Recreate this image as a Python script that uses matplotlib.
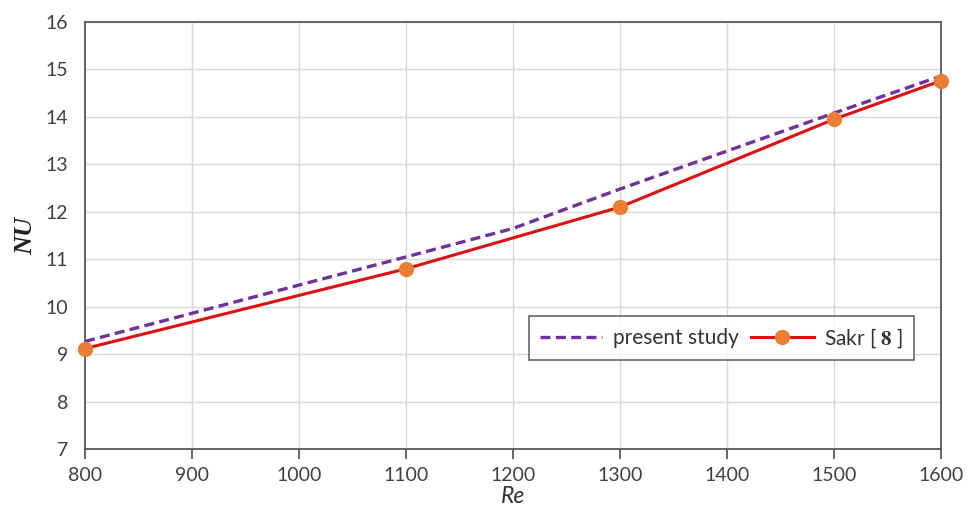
import matplotlib
matplotlib.use("Agg")
import matplotlib.pyplot as plt

# Nusselt number vs Reynolds number
re_present = [800, 1100, 1200, 1300, 1500, 1600]
nu_present = [9.27, 11.05, 11.65, 12.48, 14.08, 14.86]

re_sakr = [800, 1100, 1300, 1500, 1600]
nu_sakr = [9.12, 10.80, 12.10, 13.95, 14.76]

x_ticks = [800, 900, 1000, 1100, 1200, 1300, 1400, 1500, 1600]
y_ticks = [7, 8, 9, 10, 11, 12, 13, 14, 15, 16]

plt.rcParams["mathtext.fontset"] = "stix"
tick_font = "Lato"

fig = plt.figure(figsize=(9.67, 5.11), dpi=100)
ax = fig.add_axes([0.088, 0.121, 0.885, 0.836])

ax.plot(re_present, nu_present, linestyle=(0, (3, 1.6)), color="#7030A0",
        linewidth=2.4, label="present study", zorder=3)
ax.plot(re_sakr, nu_sakr, color="#E01010", linewidth=2.2, marker="o",
        markersize=10, markerfacecolor="#ED7D31", markeredgecolor="#ED7D31",
        label=r"Sakr [ $\mathbf{8}$ ]", zorder=4, clip_on=False)

ax.set_xlim(800, 1600)
ax.set_ylim(7, 16)
ax.set_xticks(x_ticks)
ax.set_yticks(y_ticks)
ax.grid(True, color="#d9d9d9", linewidth=1.0)
ax.set_axisbelow(True)

for s in ax.spines.values():
    s.set_color("#595959")
    s.set_linewidth(1.3)

ax.tick_params(axis="x", direction="out", length=7, width=1.3, color="#595959",
               labelsize=14, labelcolor="#404040", pad=6)
ax.tick_params(axis="y", length=0, labelsize=14, labelcolor="#404040", pad=12)
for lab in ax.get_xticklabels() + ax.get_yticklabels():
    lab.set_fontfamily(tick_font)

ax.set_xlabel("Re", fontsize=16.5, fontstyle="italic", fontfamily=tick_font,
              color="#333333", labelpad=1)
ax.set_ylabel("NU", fontsize=19, fontstyle="italic", fontweight="bold",
              fontfamily="Liberation Serif", color="#222222", labelpad=6)

leg = ax.legend(loc="upper left", bbox_to_anchor=(0.507, 0.337), ncol=2,
                frameon=True, fancybox=False, edgecolor="#404040",
                prop={"family": tick_font, "size": 15},
                handlelength=3.0, columnspacing=0.6, handletextpad=0.5,
                borderpad=0.5)
leg.get_frame().set_linewidth(1.2)
for t in leg.get_texts():
    t.set_color("#333333")

fig.savefig("out.png", dpi=100)
